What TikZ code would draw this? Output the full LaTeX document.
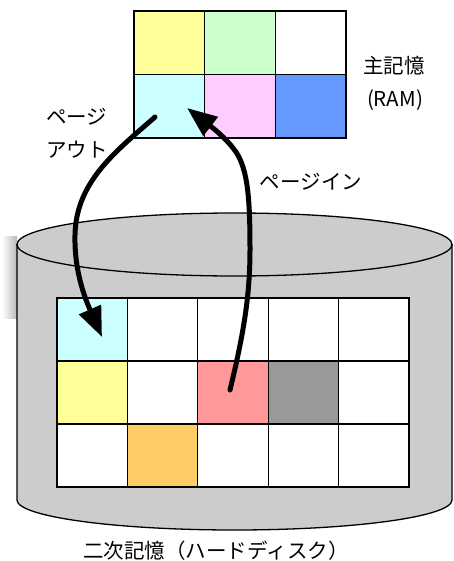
\documentclass[tikz,border=0pt]{standalone}
\usepackage{fontspec}
\setmainfont{Noto Sans CJK JP}
\usetikzlibrary{arrows.meta,calc}
\definecolor{cyellow}{HTML}{FFFF99}
\definecolor{cgreen}{HTML}{CCFFCC}
\definecolor{ccyan}{HTML}{CCFFFF}
\definecolor{cpink}{HTML}{FFCCFF}
\definecolor{cblue}{HTML}{6699FF}
\definecolor{csalmon}{HTML}{FF9999}
\definecolor{cdgray}{HTML}{999999}
\definecolor{corange}{HTML}{FFCC66}
\definecolor{ccyl}{HTML}{CCCCCC}
\begin{document}
\begin{tikzpicture}[x=1pt,y=-1pt,
  ramcell/.style={draw, line width=1.3pt, minimum width=70.67pt, minimum height=63.5pt, inner sep=0pt, outer sep=0pt},
  diskcell/.style={draw, line width=1.3pt, minimum width=70.4pt, minimum height=63pt, inner sep=0pt, outer sep=0pt, fill=white},
  lbl/.style={font=\fontsize{20.5}{24}\selectfont, inner sep=0pt},
  bigarrow/.style={line width=5pt, line cap=round, -{Triangle[length=30pt,width=23pt]}}]
\useasboundingbox (0,0) rectangle (453,561);
% faint shadow at left
\shade[left color=white, right color=black!28] (2,236) rectangle (17,318);
% cylinder
\fill[ccyl] (17,244) -- (17,500) arc[start angle=180, end angle=0, x radius=217.5, y radius=30] -- (452,244) -- cycle;
\draw[line width=1.3pt] (17,244) -- (17,500) arc[start angle=180, end angle=0, x radius=217.5, y radius=30] -- (452,244);
\draw[line width=1.3pt, fill=ccyl] (234.5,244.5) ellipse [x radius=217.5, y radius=31.5];
% RAM grid
\foreach \r/\c/\col in {0/0/cyellow,0/1/cgreen,0/2/white,1/0/ccyan,1/1/cpink,1/2/cblue}{
  \node[ramcell, fill=\col] (ram-\r-\c) at ({134+70.67*(\c+0.5)},{11+63.5*(\r+0.5)}) {};
}
% disk grid
\foreach \r in {0,1,2}{
  \foreach \c in {0,...,4}{
    \node[diskcell] (disk-\r-\c) at ({57+70.4*(\c+0.5)},{298+63*(\r+0.5)}) {};
  }
}
\node[diskcell, fill=ccyan] at (disk-0-0) {};
\node[diskcell, fill=cyellow] at (disk-1-0) {};
\node[diskcell, fill=csalmon] at (disk-1-2) {};
\node[diskcell, fill=cdgray] at (disk-1-3) {};
\node[diskcell, fill=corange] at (disk-2-1) {};
% labels
\node[lbl] (main) at (394,66) {主記憶};
\node[lbl] (ram) at (395,100) {(RAM)};
\node[lbl, anchor=west] (po1) at (46,117) {ページ};
\node[lbl, anchor=west] (po2) at (46,150) {アウト};
\node[lbl] (pi) at (311,182) {ページイン};
\node[lbl] (disk) at (216,551) {二次記憶（ハードディスク）};
% arrow end points
\coordinate (poS) at ($(ram-1-0.center)+(-14.3,10.75)$);
\coordinate (poE) at ($(disk-0-0.center)+(9.8,7.5)$);
\coordinate (piS) at ($(disk-1-2.center)+(-3,-2.5)$);
\coordinate (piE) at ($(ram-1-0.center)+(17.7,1.75)$);
\draw[bigarrow] (poS) .. controls (115,152) and (76,182) .. (75,235) .. controls (74,275) and (88,305) .. (poE);
\draw[bigarrow] (piS) .. controls (242,340) and (250,300) .. (250,250) .. controls (250,200) and (248,170) .. (236,152) .. controls (225,136) and (205,122) .. (piE);
\end{tikzpicture}
\end{document}
